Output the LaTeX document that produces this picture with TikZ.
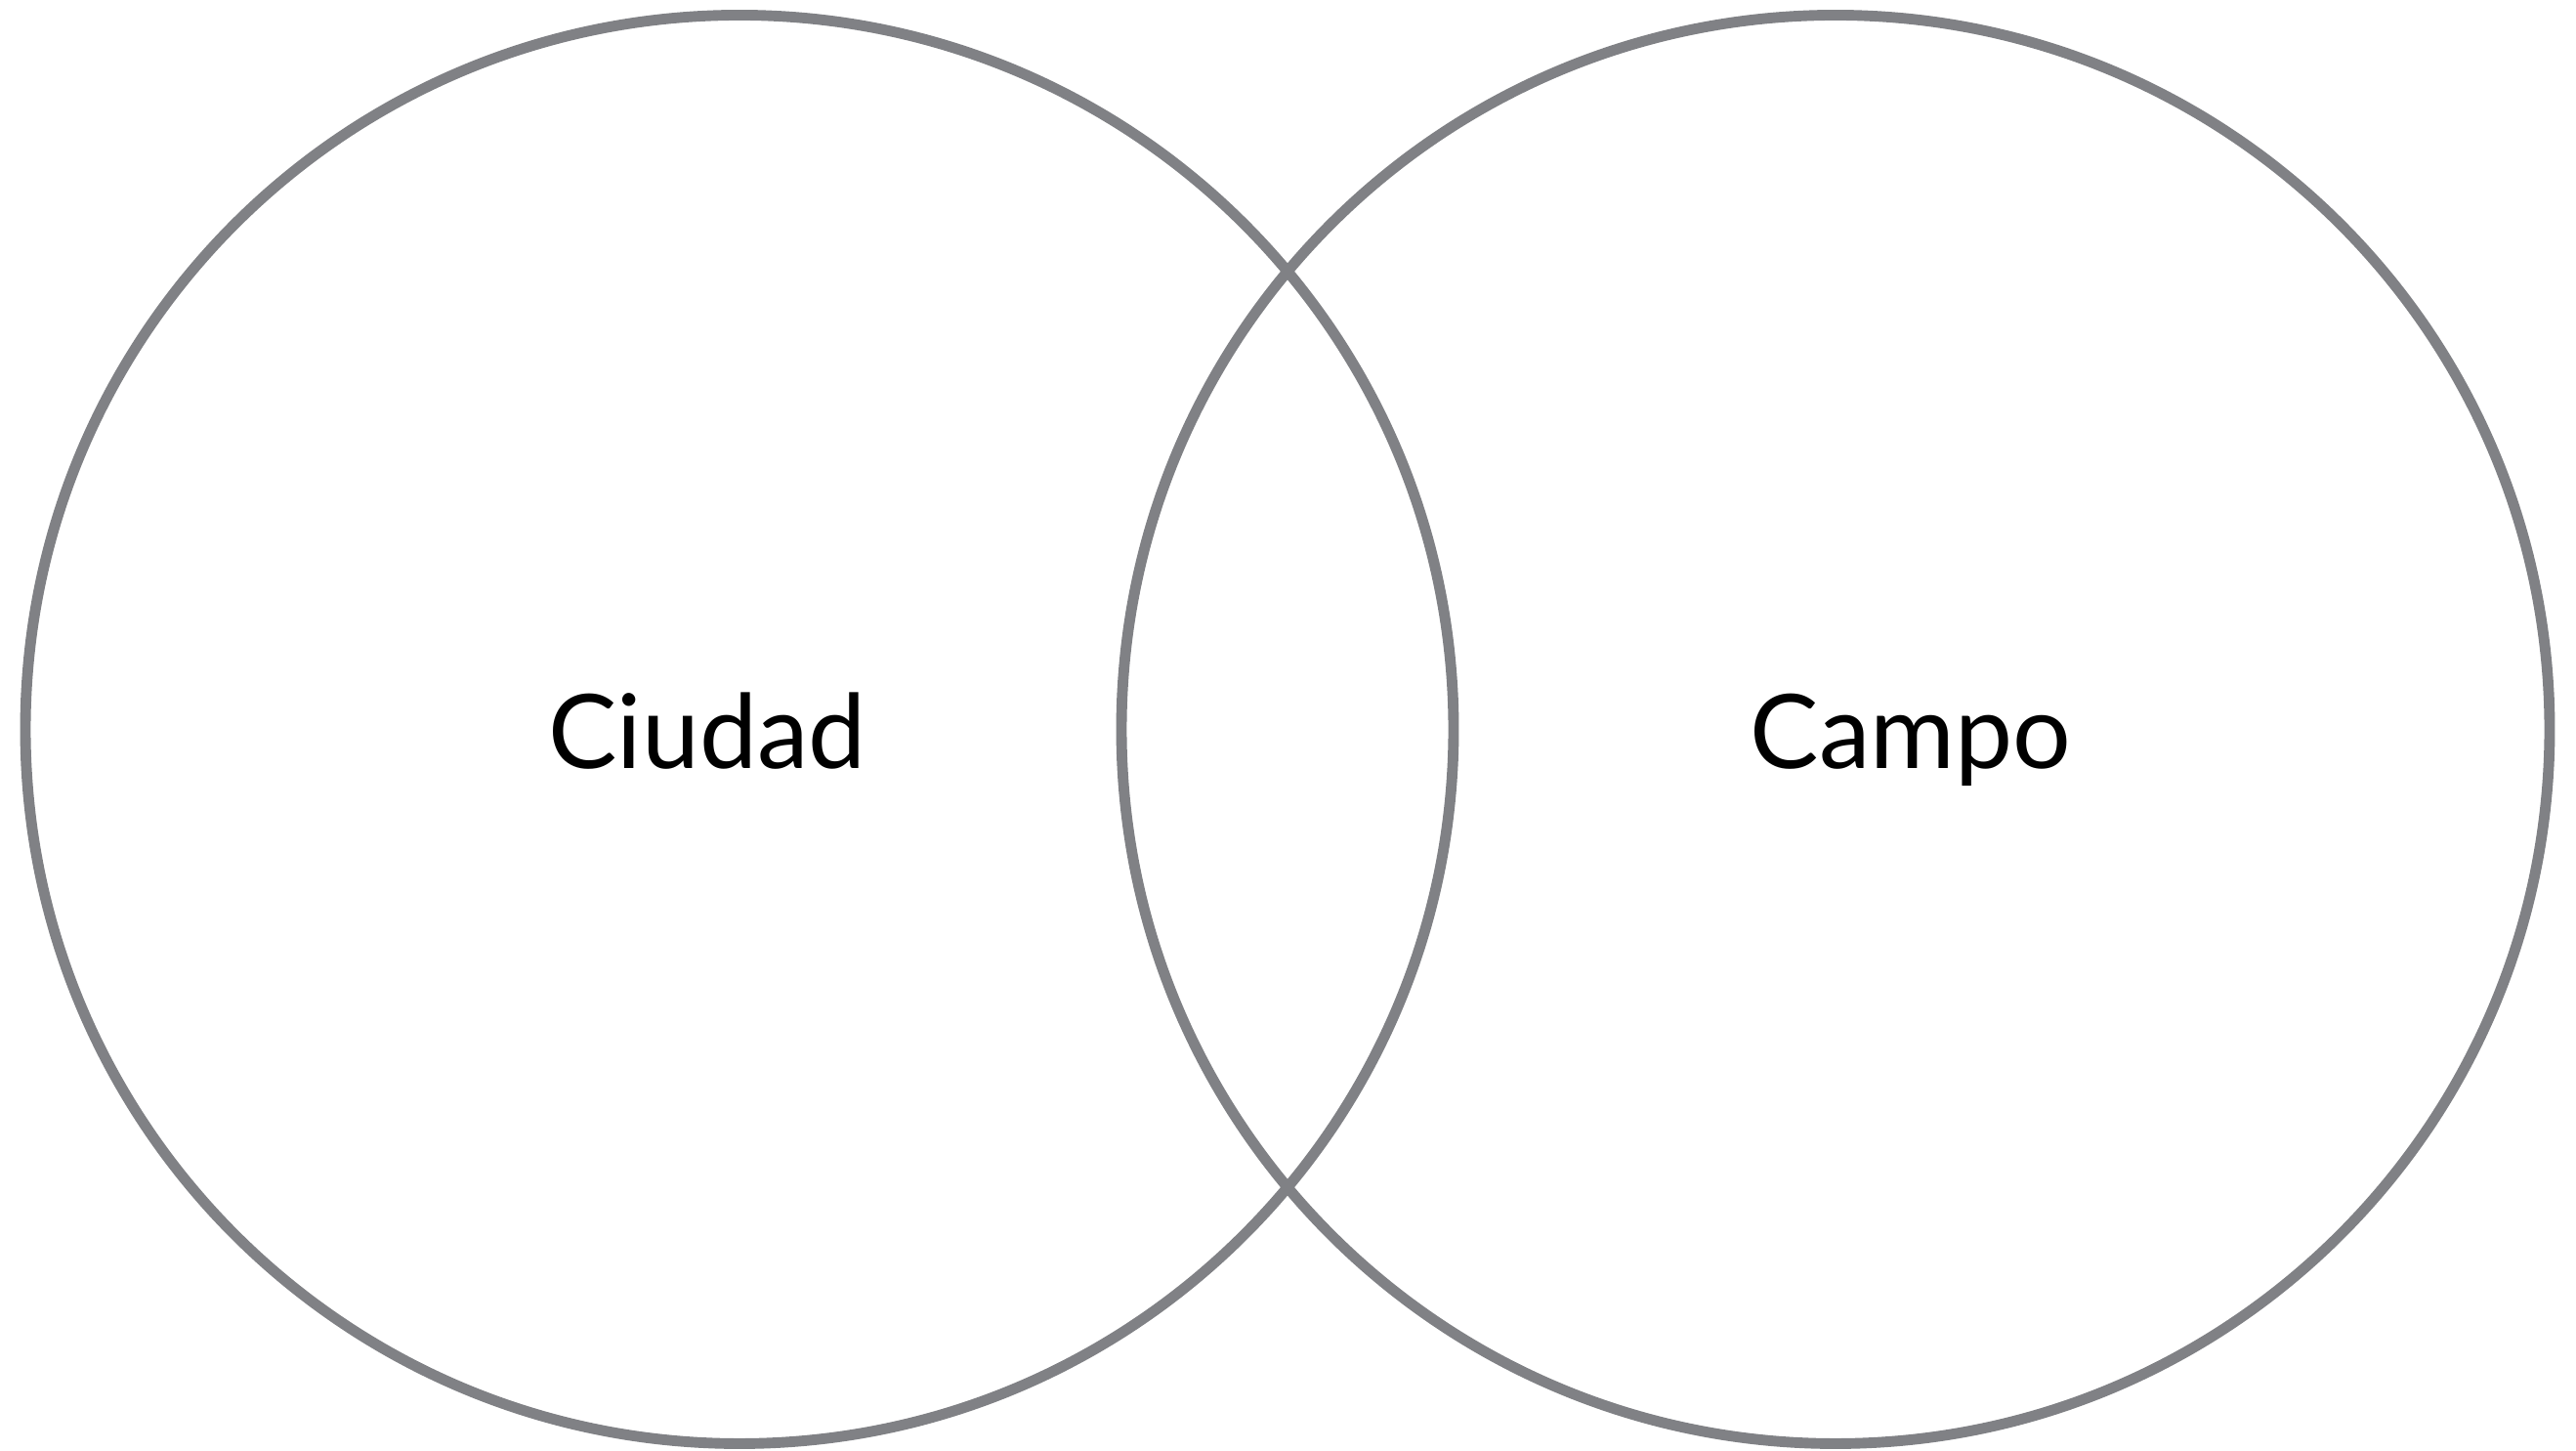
\documentclass[tikz,border=0pt]{standalone}
\usepackage{fontspec}
\setsansfont{Lato}
\usetikzlibrary{positioning}
\definecolor{setline}{HTML}{808185}

\begin{document}
\begin{tikzpicture}[
    font=\sffamily,
    setcircle/.style={circle, draw=setline, line width=3.1pt, inner sep=0pt,
                      minimum size=2*\R cm},
    setlabel/.style={font=\sffamily\fontsize{30}{36}\selectfont, text=black,
                     anchor=base, inner sep=0pt},
]

\def\R{7.31}
\def\cy{7.385}

\useasboundingbox (0,0) rectangle (26.37,14.85);

% ── the two sets ──
\node[setcircle] (ciudadset) at (7.57, \cy) {};
\node[setcircle] (camposet) at (18.79, \cy) {};

% ── labels ──
\node[setlabel] (ciudad) at (7.24, 6.98) {Ciudad};
\node[setlabel] (campo) at (19.56, 6.98) {Campo};

\end{tikzpicture}
\end{document}
